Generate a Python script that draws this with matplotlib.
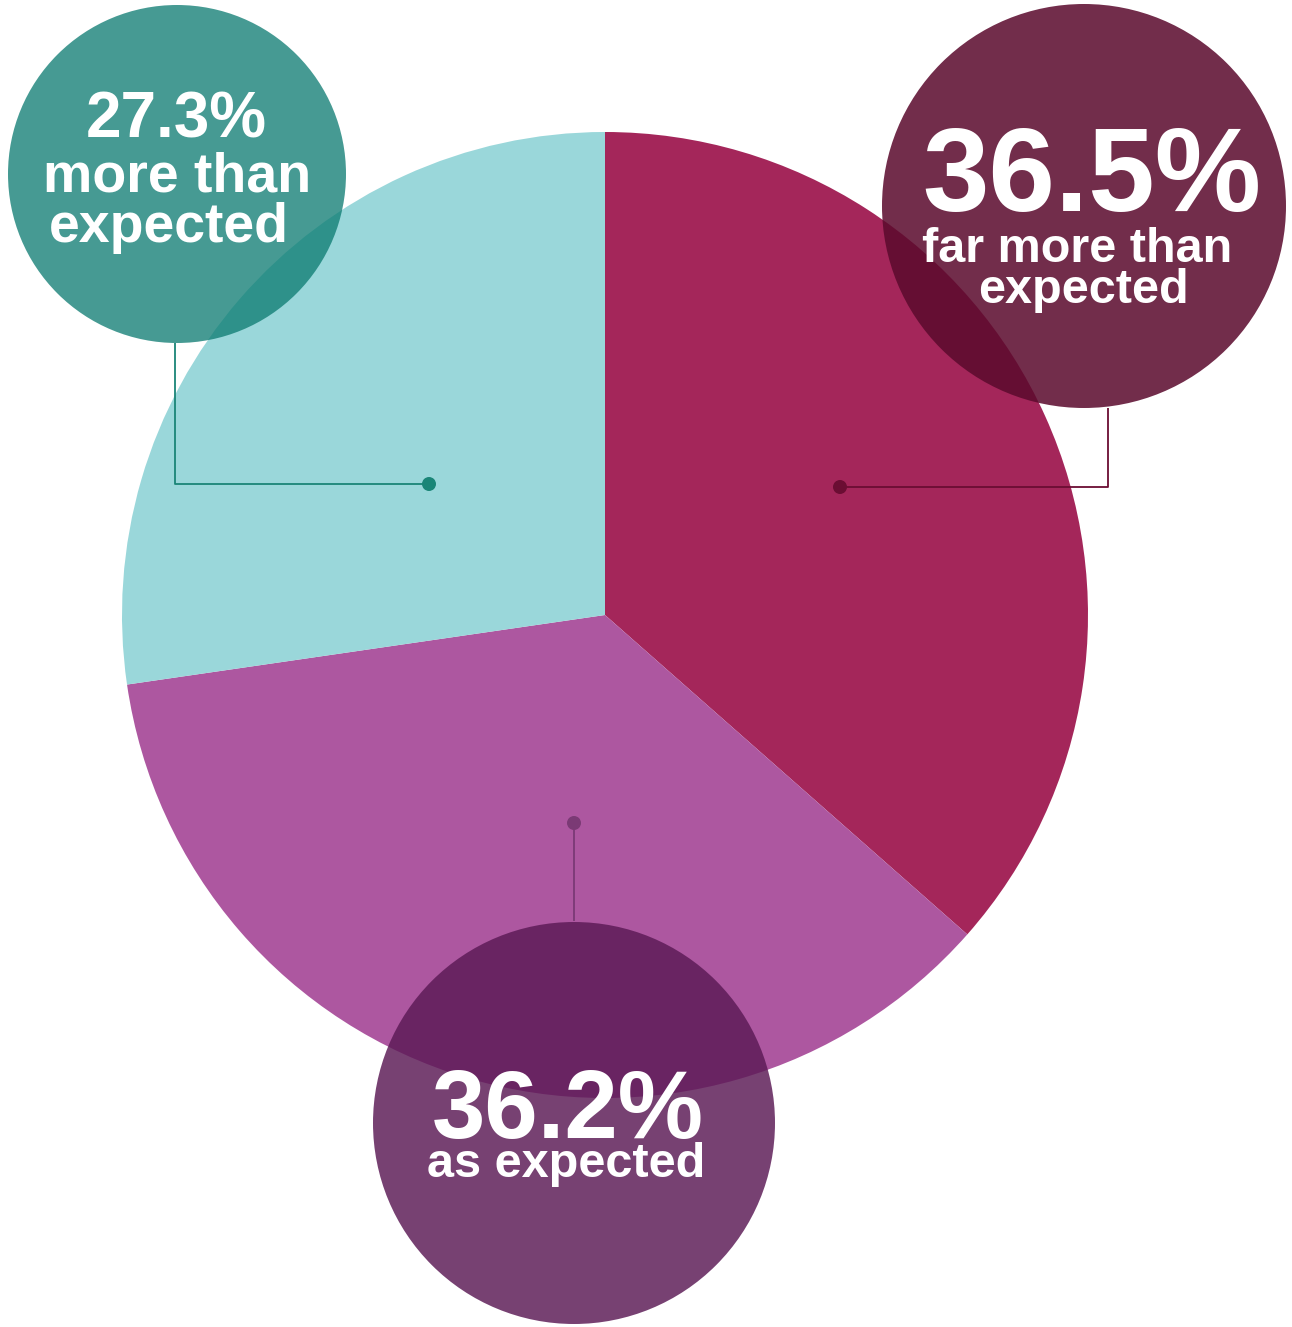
import matplotlib.pyplot as plt
from matplotlib.patches import Circle

# -----------------------------
# Data (clockwise from 12 o'clock)
# -----------------------------
categories = ["far more than expected", "as expected", "more than expected"]
shares = [36.5, 36.2, 27.3]
slice_colors = ["#A4265A", "#AD57A0", "#9AD7DA"]

# label text for each bubble
pct_labels = ["36.5%", "36.2%", "27.3%"]
sub_labels = [["far more than", "expected"], ["as expected"], ["more than", "expected"]]

# -----------------------------
# Layout (pixel coords, y from top)
# -----------------------------
W, H = 1292, 1327
pie_center = (605, 615)
pie_radius = 483

bubble_xy = [(1084, 206), (574, 1123), (177, 174)]
bubble_r = [202, 201, 169]
bubble_fc = ["#5B0A2D", "#5C1A56", "#0C7B71"]
bubble_alpha = [0.86, 0.83, 0.76]

pct_size = [86, 69, 46]
sub_size = [35, 35, 40]
pct_xy = [(1092, 211), (568, 1138), (176, 137)]
sub_x = [[1077, 1083], [566], [177, 169]]
sub_base = [[262, 303], [1177], [192, 242]]

# leader lines: dot -> elbow -> bubble edge
leader_pts = [
    [(840, 487), (1108, 487), (1108, 408)],
    [(574, 823), (574, 921)],
    [(429, 484), (175, 484), (175, 343)],
]
leader_color = ["#6B0D33", "#7B3A75", "#1A8577"]

plt.rcParams["font.family"] = ["Liberation Sans", "DejaVu Sans"]


def Y(y):
    return H - y


fig = plt.figure(figsize=(W / 100, H / 100), dpi=100)
ax = fig.add_axes([0, 0, 1, 1])

ax.pie(shares, colors=slice_colors, startangle=90, counterclock=False,
       center=(pie_center[0], Y(pie_center[1])), radius=pie_radius,
       wedgeprops=dict(linewidth=0), frame=True)

for pts, col in zip(leader_pts, leader_color):
    xs = [p[0] for p in pts]
    ys = [Y(p[1]) for p in pts]
    ax.plot(xs, ys, color=col, lw=1.3, zorder=3, solid_capstyle="butt")
    ax.add_patch(Circle((xs[0], ys[0]), 7, color=col, zorder=4, lw=0))

for i in range(3):
    cx, cy = bubble_xy[i]
    ax.add_patch(Circle((cx, Y(cy)), bubble_r[i], facecolor=bubble_fc[i],
                        alpha=bubble_alpha[i], lw=0, zorder=5))
    ax.text(pct_xy[i][0], Y(pct_xy[i][1]), pct_labels[i], color="white",
            fontsize=pct_size[i], fontweight="bold", ha="center", va="baseline",
            zorder=6)
    for j, line in enumerate(sub_labels[i]):
        ax.text(sub_x[i][j], Y(sub_base[i][j]), line, color="white",
                fontsize=sub_size[i], fontweight="bold", ha="center",
                va="baseline", zorder=6)

ax.set_xlim(0, W)
ax.set_ylim(0, H)
ax.set_aspect("equal")
ax.axis("off")

fig.savefig("out.png", dpi=100, facecolor="white")
